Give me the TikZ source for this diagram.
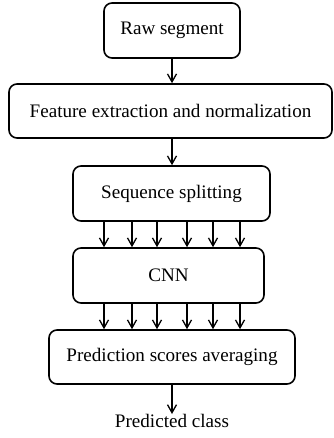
\documentclass[tikz,border=0pt]{standalone}
\usepackage{fontspec}
\setmainfont{Liberation Serif}
\usetikzlibrary{arrows.meta}
\begin{document}
\begin{tikzpicture}[x=1pt,y=-1pt,
  box/.style={draw,line width=1.6pt,rounded corners=8pt,inner sep=0pt,font=\fontsize{19.1}{22}\selectfont},
  arr/.style={line width=1.3pt,-{Straight Barb[length=8pt,width=9pt,line width=1.3pt]}},
  lbl/.style={inner sep=0pt,font=\fontsize{19.1}{22}\selectfont}]
\useasboundingbox (0,0) rectangle (333,438);
\node[box,minimum width=136pt,minimum height=55pt] (b1) at (172,30.5) {Raw segment};
\node[box,minimum width=323pt,minimum height=54pt] (b2) at (170.5,111) {Feature extraction and normalization};
\node[box,minimum width=197pt,minimum height=55pt] (b3) at (171.5,193.5) {Sequence splitting};
\node[box,minimum width=191pt,minimum height=55pt] (b4) at (168.5,275.5) {CNN};
\node[box,minimum width=246pt,minimum height=54pt] (b5) at (172,357) {Prediction scores averaging};
\node[lbl,anchor=north] (out) at (172,414) {Predicted class};
\draw[arr] (b1.south -| 172,0) -- (b2.north -| 172,0);
\draw[arr] (b2.south -| 172,0) -- (b3.north -| 172,0);
\foreach \x in {104,132,157,187,213,240}{
  \draw[arr] (b3.south -| \x,0) -- (b4.north -| \x,0);
  \draw[arr] (b4.south -| \x,0) -- (b5.north -| \x,0);
}
\draw[arr] (b5.south -| 172,0) -- (out.north -| 172,0);
\end{tikzpicture}
\end{document}
